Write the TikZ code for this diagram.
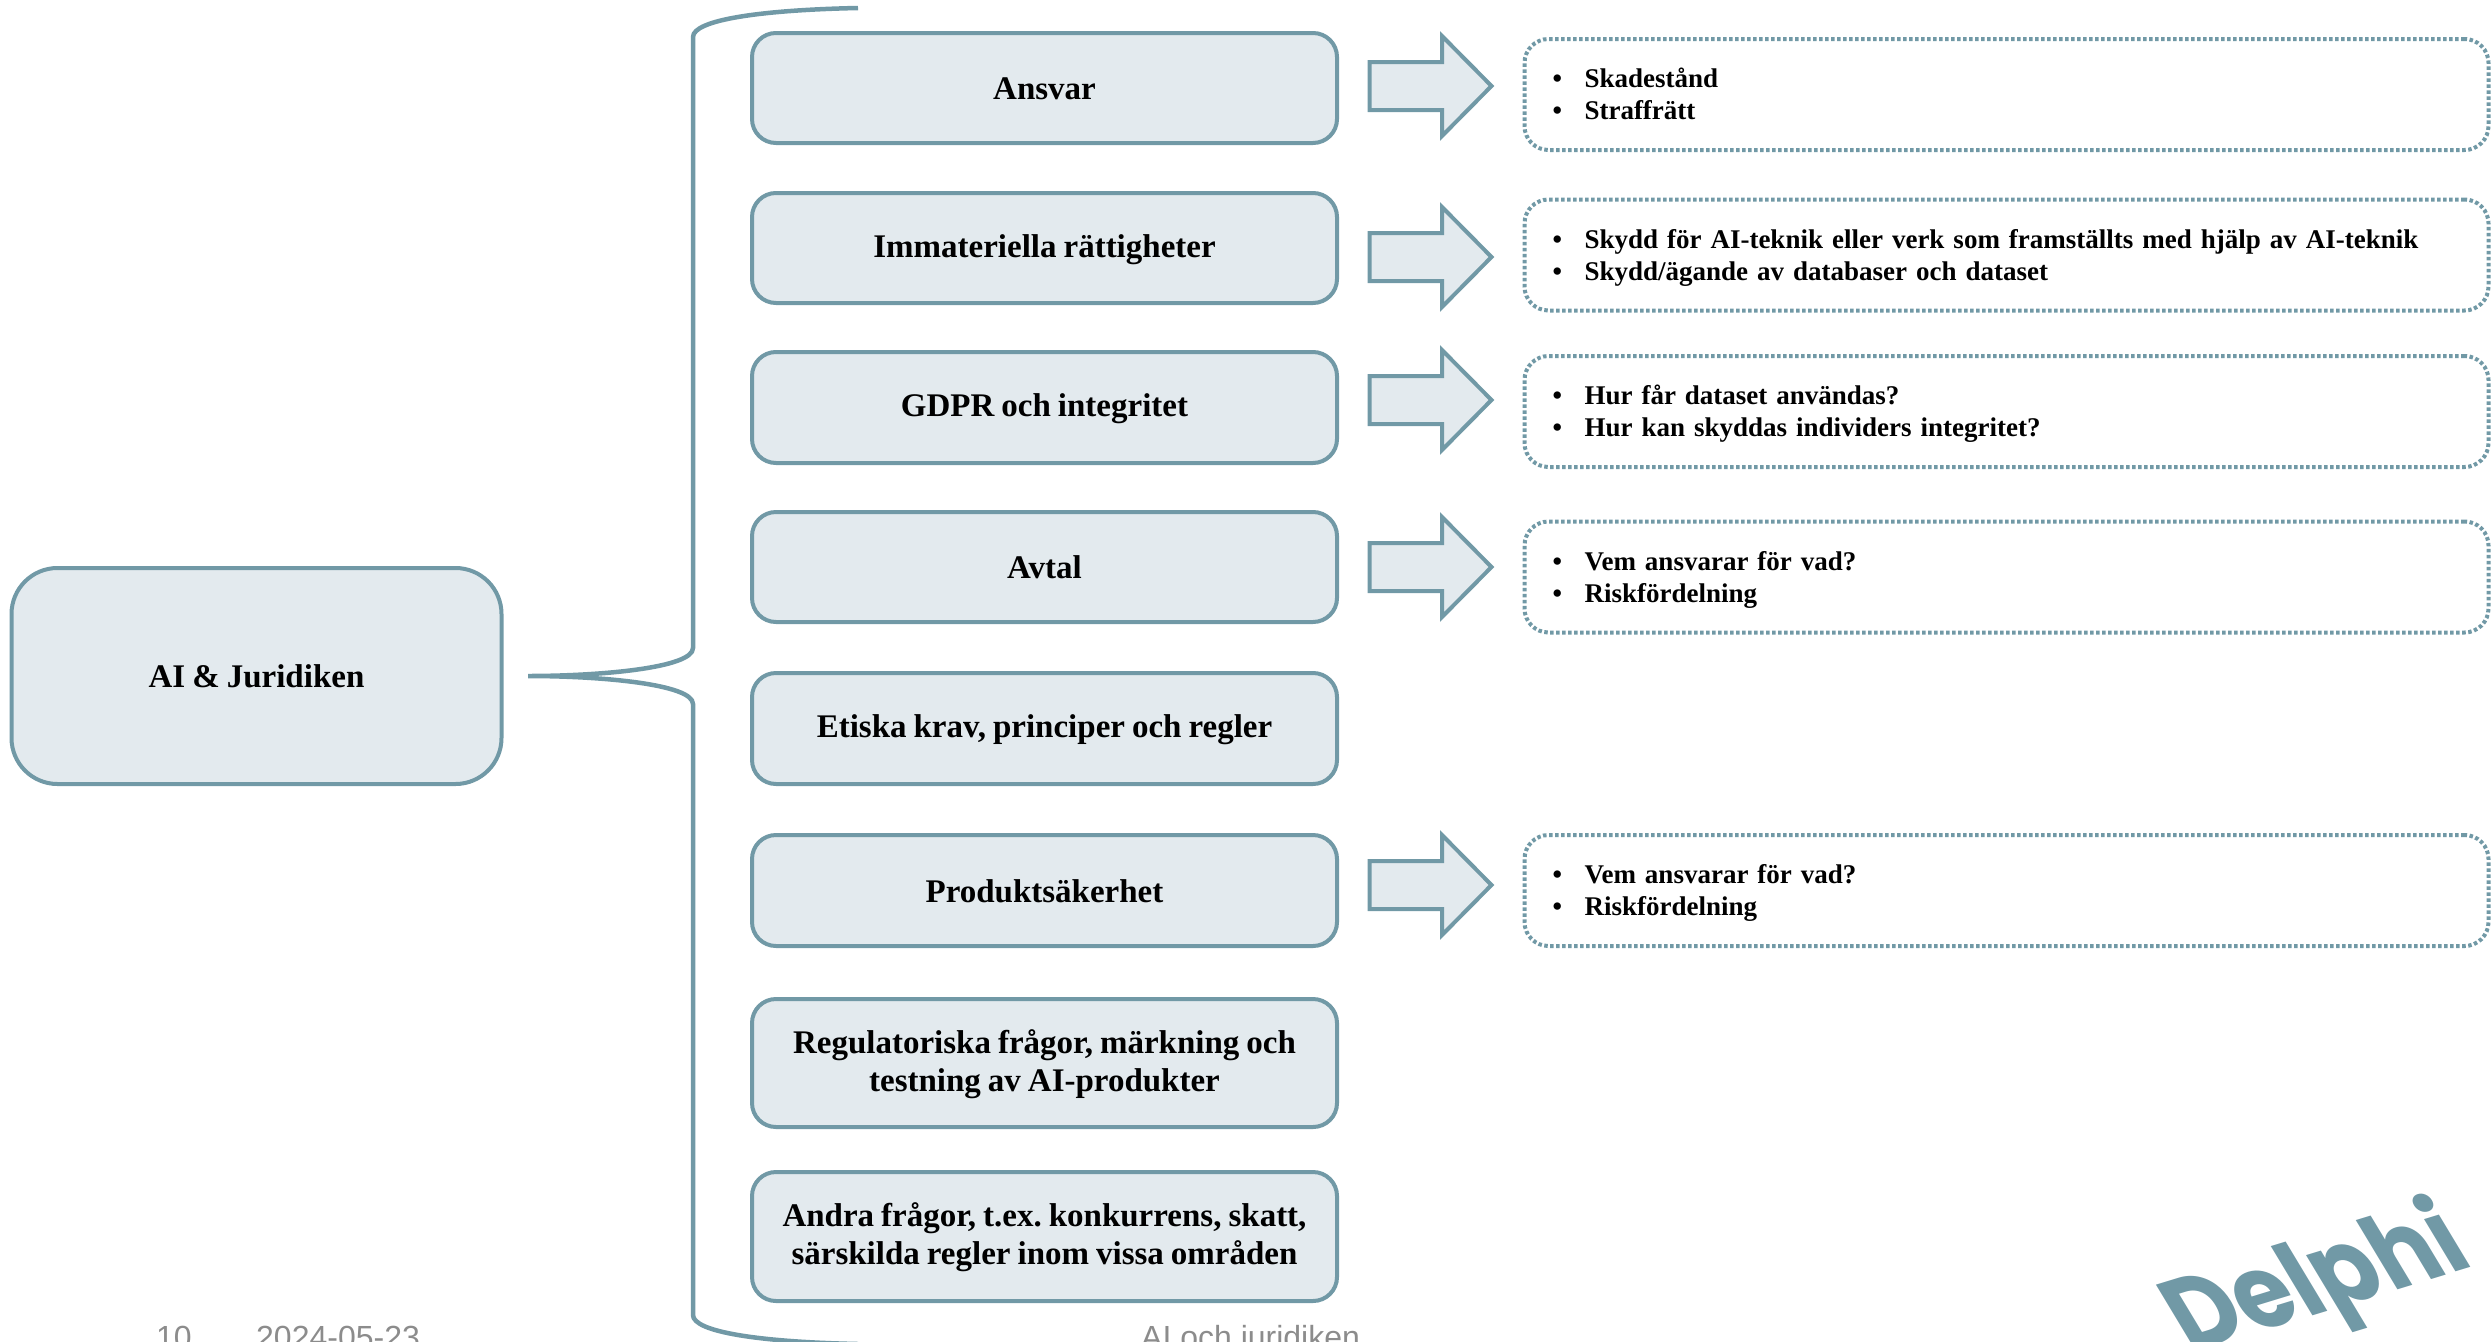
\documentclass[tikz,border=0pt]{standalone}
\usepackage{fontspec}
\setmainfont[WordSpace=0.85]{Liberation Serif}
\newfontfamily\footfont{Liberation Sans}
\newfontfamily\logofont{Poppins}
\definecolor{teal}{HTML}{7199A6}
\definecolor{pale}{HTML}{E3EAEE}
\definecolor{foot}{HTML}{8C8C8C}
\tikzset{
  topicbox/.style={draw=teal,fill=pale,line width=4pt,rounded corners=24pt,minimum width=585pt,minimum height=110pt,align=center,inner sep=0pt,
    font=\fontsize{33}{38}\selectfont\bfseries\frenchspacing},
  rootbox/.style={topicbox,rounded corners=46pt,minimum width=490pt,minimum height=216pt},
  listbox/.style={draw=teal,line width=4pt,dash pattern=on 3.5pt off 2.5pt,rounded corners=24pt,minimum width=964pt,minimum height=111pt,
    text width=908pt,inner xsep=28pt,inner ysep=0pt,align=left,font=\fontsize{27}{32}\selectfont\bfseries},
  bracket/.style={draw=teal,line width=4.5pt},
  footer/.style={anchor=base west,inner sep=0pt,text=foot,font=\footfont\fontsize{32}{36}\selectfont},
  bigarrow/.pic={\draw[draw=teal,fill=pale,line width=4pt,miter limit=10] (0.5,-24) -- (73,-24) -- (73,-50) -- (122.5,0) -- (73,50) -- (73,24) -- (0.5,24) -- cycle;}
}
\newcommand{\bu}{\rule[-6pt]{0pt}{30pt}\makebox[32pt][l]{•}}
\newcommand{\tl}{\rule[-3pt]{0pt}{29pt}}
\begin{document}
\begin{tikzpicture}[x=1pt,y=-1pt]
\useasboundingbox (0,0) rectangle (2491,1341);
\clip (0,0) rectangle (2491,1341);
% root and topics
\node[rootbox] (root) at (256.5,676) {\tl AI \& Juridiken};
\node[topicbox] (t1) at (1044.5,88) {\tl Ansvar};
\node[topicbox] (t2) at (1044.5,248) {\tl Immateriella rättigheter};
\node[topicbox,minimum height=111pt] (t3) at (1044.5,407.5) {\tl GDPR och integritet};
\node[topicbox] (t4) at (1044.5,567) {\tl Avtal};
\node[topicbox,minimum height=111pt] (t5) at (1044.5,728.5) {\tl Etiska krav, principer och regler};
\node[topicbox,minimum height=111pt] (t6) at (1044.5,890.5) {\tl Produktsäkerhet};
\node[topicbox,minimum height=128pt] (t7) at (1044.5,1063) {\tl Regulatoriska frågor, märkning och\\\tl testning av AI-produkter};
\node[topicbox,minimum height=129pt] (t8) at (1044.5,1236.5) {\tl Andra frågor, t.ex. konkurrens, skatt,\\\tl särskilda regler inom vissa områden};
% bracket
\coordinate (btop) at (858,8);
\coordinate (btip) at (528,676);
\coordinate (bbot) at (858,1344);
\draw[bracket] (btop) .. controls (760,10) and (693,20) .. (693,37) -- (693,648)
  .. controls (693,668) and (600,676) .. (btip)
  .. controls (600,676) and (693,684) .. (693,704) -- (693,1315)
  .. controls (693,1332) and (760,1342) .. (bbot);
% arrows
\pic at (1369,86) {bigarrow};
\pic at (1369,257) {bigarrow};
\pic at (1369,400) {bigarrow};
\pic at (1369,567) {bigarrow};
\pic at (1369,885) {bigarrow};
% lists
\node[listbox] (l1) at (2006.5,94.5) {\bu Skadestånd\\\bu Straffrätt};
\node[listbox] (l2) at (2006.5,255) {\bu Skydd för AI-teknik eller verk som framställts med hjälp av AI-teknik\\\bu Skydd/ägande av databaser och dataset};
\node[listbox] (l3) at (2006.5,411.5) {\bu Hur får dataset användas?\\\bu Hur kan skyddas individers integritet?};
\node[listbox] (l4) at (2006.5,577) {\bu Vem ansvarar för vad?\\\bu Riskfördelning};
\node[listbox] (l6) at (2006.5,890.5) {\bu Vem ansvarar för vad?\\\bu Riskfördelning};
% footer
\node[footer] (fnum) at (156,1348) {10};
\node[footer] (fdate) at (256,1348) {2024-05-23};
\node[footer] (ftitle) at (1141,1348) {AI och juridiken};
% logo
\node[anchor=base west,inner sep=0pt,text=teal,rotate=17,xslant=-0.25,xscale=0.86,transform shape,font=\logofont\fontsize{106}{106}\selectfont\bfseries] (logo) at (2190,1353) {Delphi};
\end{tikzpicture}
\end{document}
